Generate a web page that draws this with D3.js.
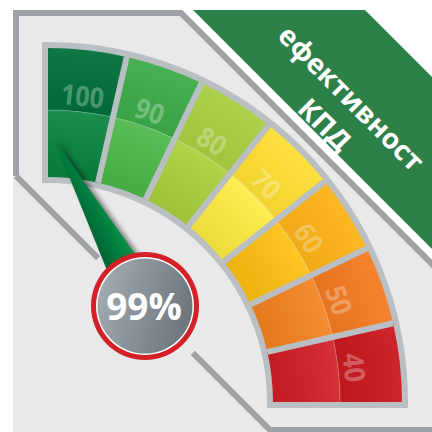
<!DOCTYPE html>
<html><head><meta charset="utf-8">
<script src="https://cdn.jsdelivr.net/npm/d3@7"></script>
<style>body{margin:0;background:#fff}svg{display:block}</style>
</head><body>
<script>
// ---- data ----
const labels = [100, 90, 80, 70, 60, 50, 40];
const segmentWidth = 10;
const value = 99;
const valueText = "99%";
const titleLines = ["ефективност", "КПД"];
// ---- palette ----
const outerColors = ["#006f3a", "#3dab49", "#a8ce3f", "#fedf32", "#fcb316", "#f37a21", "#c9191f"];
const innerColors = ["#07843f", "#4ab848", "#a9d03a", "#ffec42", "#fec010", "#f5821f", "#d21e26"];

const W = 432, H = 432;
const svg = d3.select("body").append("svg").attr("width", W).attr("height", H);
const defs = svg.append("defs");

const panelFill = "#e9e9e9", borderCol = "#9ca2a7", frameCol = "#b9bfc3";

// panel background
svg.append("path")
  .attr("d", "M13,10 L182,10 L432,260 L432,432 L13,432 Z")
  .attr("fill", panelFill);
// green banner
svg.append("path")
  .attr("d", "M193,10 L365,10 L432,77 L432,249 Z")
  .attr("fill", "#2e8049");
// outer border
svg.append("path")
  .attr("d", "M16,176 L16,13 L181,13 L436,268")
  .attr("fill", "none").attr("stroke", borderCol).attr("stroke-width", 6)
  .attr("stroke-linejoin", "miter");
// inner diagonal + bottom
svg.append("path")
  .attr("d", "M16,176 L270,430 L436,430")
  .attr("fill", "none").attr("stroke", borderCol).attr("stroke-width", 6)
  .attr("stroke-linejoin", "miter");

// title
const tg = svg.append("g").attr("transform", "translate(349.5,100) rotate(45)");
tg.selectAll("text").data(titleLines).join("text")
  .attr("x", 0).attr("y", (d, i) => i === 0 ? 7.5 : 45)
  .attr("text-anchor", "middle")
  .attr("font-family", "'Open Sans', sans-serif")
  .attr("font-weight", 700)
  .attr("font-size", 28)
  .attr("fill", "#fff")
  .text(d => d);

// ---- gauge ----
const cx = 48, cy = 402;
const rIn = 225, rMid = 292, rOut = 354;
const angle = d3.scaleLinear()
  .domain([labels[0], labels[labels.length - 1] - segmentWidth])
  .range([0, Math.PI / 2]);
const g = svg.append("g").attr("transform", `translate(${cx},${cy})`);
const arc = d3.arc();

g.append("path")
  .attr("d", arc({innerRadius: rIn, outerRadius: rOut, startAngle: angle(labels[0]), endAngle: angle(labels[labels.length - 1] - segmentWidth)}))
  .attr("fill", frameCol).attr("stroke", frameCol).attr("stroke-width", 12)
  .attr("stroke-linejoin", "miter");

const segs = labels.map((L, i) => ({L, i, a0: angle(L), a1: angle(L - segmentWidth)}));
g.selectAll("path.inner").data(segs).join("path").attr("class", "inner")
  .attr("d", d => arc({innerRadius: rIn, outerRadius: rMid, startAngle: d.a0, endAngle: d.a1}))
  .attr("fill", d => innerColors[d.i]);
g.selectAll("path.outer").data(segs).join("path").attr("class", "outer")
  .attr("d", d => arc({innerRadius: rMid, outerRadius: rOut, startAngle: d.a0, endAngle: d.a1}))
  .attr("fill", d => outerColors[d.i]);

// subtle radial shading
const sh1 = defs.append("radialGradient").attr("id", "shIn").attr("gradientUnits", "userSpaceOnUse")
  .attr("cx", 0).attr("cy", 0).attr("r", rMid);
sh1.append("stop").attr("offset", rIn / rMid).attr("stop-color", "#000").attr("stop-opacity", 0.07);
sh1.append("stop").attr("offset", 1).attr("stop-color", "#fff").attr("stop-opacity", 0.08);
const sh2 = defs.append("radialGradient").attr("id", "shOut").attr("gradientUnits", "userSpaceOnUse")
  .attr("cx", 0).attr("cy", 0).attr("r", rOut);
sh2.append("stop").attr("offset", rMid / rOut).attr("stop-color", "#000").attr("stop-opacity", 0.05);
sh2.append("stop").attr("offset", 1).attr("stop-color", "#fff").attr("stop-opacity", 0.06);
g.selectAll("path.shin").data(segs).join("path").attr("class", "shin")
  .attr("d", d => arc({innerRadius: rIn, outerRadius: rMid, startAngle: d.a0, endAngle: d.a1}))
  .attr("fill", "url(#shIn)");
g.selectAll("path.shout").data(segs).join("path").attr("class", "shout")
  .attr("d", d => arc({innerRadius: rMid, outerRadius: rOut, startAngle: d.a0, endAngle: d.a1}))
  .attr("fill", "url(#shOut)");

// split highlight
g.append("path")
  .attr("d", d3.arc()({innerRadius: rMid - 0.5, outerRadius: rMid + 0.5, startAngle: 0, endAngle: Math.PI / 2}))
  .attr("fill", "#fff").attr("opacity", 0.25);
// separators
g.selectAll("line.sep").data(segs.slice(1)).join("line").attr("class", "sep")
  .attr("x1", d => rIn * Math.sin(d.a0)).attr("y1", d => -rIn * Math.cos(d.a0))
  .attr("x2", d => rOut * Math.sin(d.a0)).attr("y2", d => -rOut * Math.cos(d.a0))
  .attr("stroke", frameCol).attr("stroke-width", 6);
// labels
const rLab = 308;
g.selectAll("text.lab").data(segs).join("text").attr("class", "lab")
  .attr("transform", d => {
    const a = (d.a0 + d.a1) / 2;
    return `translate(${rLab * Math.sin(a)},${-rLab * Math.cos(a)}) rotate(${a * 180 / Math.PI}) scale(0.9,1)`;
  })
  .attr("text-anchor", "middle").attr("dy", "0.36em")
  .attr("font-family", "'Open Sans', sans-serif").attr("font-weight", 700)
  .attr("font-size", 28).attr("fill", "#fff").attr("fill-opacity", 0.3)
  .text(d => d.L);

// ---- needle & value badge ----
const bx = 145, by = 306;
svg.append("circle").attr("cx", bx).attr("cy", by).attr("r", 67).attr("fill", panelFill);

const rTip = 263;
const aV = angle(value);
const tip = [cx + rTip * Math.sin(aV), cy - rTip * Math.cos(aV)];
const dx = bx - tip[0], dy = by - tip[1], len = Math.hypot(dx, dy);
const px = -dy / len, py = dx / len, hw = 22;
const b1 = [bx + px * hw, by + py * hw], b2 = [bx - px * hw, by - py * hw];

const shadow = defs.append("filter").attr("id", "sh").attr("x", "-50%").attr("y", "-50%").attr("width", "200%").attr("height", "200%");
shadow.append("feGaussianBlur").attr("stdDeviation", 2.5);
const ng = defs.append("linearGradient").attr("id", "ng").attr("gradientUnits", "userSpaceOnUse")
  .attr("x1", b2[0]).attr("y1", b2[1]).attr("x2", b1[0]).attr("y2", b1[1]);
ng.append("stop").attr("offset", 0).attr("stop-color", "#0c9a4d");
ng.append("stop").attr("offset", 0.5).attr("stop-color", "#007a3d");
ng.append("stop").attr("offset", 1).attr("stop-color", "#005a2d");

const needleLine = d3.line();
svg.append("path").attr("d", needleLine([tip, b1, b2]) + "Z")
  .attr("transform", "translate(4,1)")
  .attr("fill", "#000").attr("opacity", 0.45).attr("filter", "url(#sh)");
svg.append("path").attr("d", needleLine([tip, b1, b2]) + "Z").attr("fill", "url(#ng)");

const dg = defs.append("linearGradient").attr("id", "dg").attr("x1", 0).attr("y1", 0.35).attr("x2", 1).attr("y2", 0.65);
dg.append("stop").attr("offset", 0).attr("stop-color", "#a3aab0");
dg.append("stop").attr("offset", 1).attr("stop-color", "#6a747b");
svg.append("circle").attr("cx", bx).attr("cy", by).attr("r", 54).attr("fill", "#d42027");
svg.append("circle").attr("cx", bx).attr("cy", by).attr("r", 49).attr("fill", "#fff");
svg.append("circle").attr("cx", bx).attr("cy", by).attr("r", 47.5).attr("fill", "url(#dg)");
svg.append("text").attr("x", bx - 1).attr("y", by + 14)
  .attr("text-anchor", "middle")
  .attr("font-family", "'Open Sans', sans-serif").attr("font-weight", 700)
  .attr("font-size", 37).attr("fill", "#fff")
  .text(valueText);
</script>
</body></html>
